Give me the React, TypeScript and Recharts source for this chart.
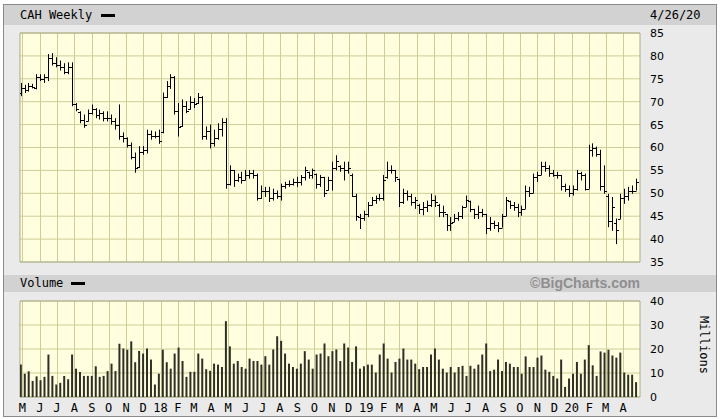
import React from 'react'
import { Bar, CartesianGrid, ComposedChart, ReferenceArea, XAxis, YAxis } from 'recharts'

// weekly bars, first one is the week of 4/28/17
const weekHigh = [
  74.1, 73.7, 74.1, 73.9, 76.0, 76.0, 76.0, 80.4, 80.6, 79.7,
  79.0, 78.4, 78.6, 78.6, 69.7, 67.9, 67.2, 68.3, 69.4, 68.6,
  68.3, 67.9, 67.9, 67.2, 66.4, 69.4, 63.3, 62.2, 61.1, 58.9,
  60.3, 60.3, 63.9, 63.7, 63.5, 63.9, 72.0, 74.5, 76.0, 75.6,
  69.7, 70.5, 70.1, 71.2, 70.8, 71.9, 71.2, 64.6, 65.0, 63.9,
  65.3, 66.4, 66.4, 56.1, 55.1, 54.3, 54.7, 55.1, 55.1, 55.1,
  54.3, 51.7, 51.4, 51.4, 51.0, 50.6, 52.1, 52.5, 52.8, 53.2,
  53.6, 54.0, 55.8, 54.7, 55.4, 54.3, 54.0, 53.6, 53.6, 56.9,
  58.3, 56.1, 56.9, 56.9, 54.3, 49.9, 45.5, 46.2, 48.1, 49.2,
  49.5, 49.9, 54.0, 56.9, 56.1, 55.1, 53.2, 51.0, 50.6, 49.9,
  49.2, 47.7, 48.1, 48.4, 49.9, 49.5, 47.7, 47.3, 45.5, 44.8,
  45.5, 45.9, 47.3, 49.5, 48.4, 46.6, 47.3, 46.6, 45.5, 44.8,
  44.0, 43.7, 45.5, 49.2, 48.4, 48.1, 47.7, 47.3, 51.7, 51.4,
  54.3, 54.7, 56.9, 56.9, 56.1, 55.1, 54.7, 54.0, 52.1, 51.7,
  51.7, 55.1, 54.7, 54.3, 60.6, 60.9, 60.2, 59.5, 56.1, 49.9,
  49.2, 44.5, 49.9, 51.0, 51.4, 51.7, 53.2,
]
const weekLow = [
  71.2, 71.9, 72.2, 72.9, 72.7, 74.5, 74.1, 74.5, 77.9, 77.5,
  76.8, 76.0, 76.0, 69.0, 67.9, 65.3, 64.3, 65.7, 67.2, 66.4,
  66.1, 65.7, 65.7, 65.0, 63.9, 61.7, 61.1, 60.0, 57.4, 54.5,
  55.5, 58.4, 58.7, 61.7, 62.0, 60.8, 63.1, 70.8, 72.8, 67.2,
  62.4, 64.5, 67.5, 68.3, 68.6, 69.5, 61.7, 61.7, 59.8, 60.2,
  61.7, 62.4, 51.0, 51.7, 51.4, 52.5, 52.1, 52.8, 53.2, 53.2,
  48.4, 48.8, 49.2, 48.1, 48.4, 48.8, 48.4, 51.0, 51.4, 51.7,
  51.4, 51.7, 52.8, 53.2, 53.2, 51.0, 51.4, 49.2, 50.6, 50.6,
  55.0, 54.7, 52.8, 54.3, 49.2, 44.0, 42.2, 44.0, 44.8, 47.3,
  47.7, 48.4, 48.4, 53.2, 54.3, 52.5, 47.0, 47.7, 48.4, 47.3,
  46.6, 45.5, 45.2, 45.9, 47.0, 47.0, 44.8, 44.8, 41.8, 41.8,
  43.7, 44.0, 44.4, 47.0, 45.9, 44.4, 44.4, 44.8, 41.1, 41.8,
  42.2, 41.5, 42.5, 45.0, 46.6, 46.2, 44.8, 45.1, 46.6, 49.2,
  50.0, 52.5, 54.0, 54.7, 53.6, 53.6, 53.2, 50.6, 50.3, 49.2,
  49.5, 50.6, 52.8, 50.6, 51.0, 58.0, 58.0, 50.6, 49.9, 42.6,
  41.8, 38.9, 44.4, 47.7, 48.4, 49.9, 50.6,
]
const weekOpen = [
  72.0, 73.0, 72.5, 73.5, 73.0, 75.5, 75.0, 75.5, 79.5, 78.5,
  78.0, 77.5, 76.5, 77.5, 69.5, 67.8, 66.0, 65.8, 67.5, 68.5,
  67.0, 67.5, 66.5, 66.5, 65.7, 65.0, 62.5, 62.0, 60.5, 58.0,
  55.8, 59.0, 59.5, 63.0, 62.5, 62.5, 63.3, 71.0, 73.5, 75.5,
  68.0, 64.8, 69.0, 68.5, 70.0, 69.8, 71.0, 62.5, 63.5, 61.0,
  62.0, 64.0, 65.5, 52.0, 55.0, 53.0, 53.5, 53.0, 54.0, 54.5,
  54.0, 49.0, 50.5, 50.5, 49.0, 50.0, 49.5, 51.5, 52.0, 52.0,
  52.5, 52.5, 53.5, 54.6, 54.0, 54.2, 52.0, 53.5, 50.8, 53.0,
  55.5, 56.0, 55.5, 55.0, 54.0, 49.5, 44.8, 44.5, 45.5, 47.5,
  48.5, 49.0, 49.0, 53.5, 55.0, 55.0, 53.2, 48.0, 50.0, 49.5,
  48.0, 47.5, 46.5, 47.0, 47.5, 48.5, 47.5, 46.0, 45.5, 43.0,
  43.8, 44.5, 45.0, 47.0, 48.4, 46.5, 45.5, 46.0, 45.5, 42.5,
  43.5, 43.0, 42.5, 45.0, 48.4, 47.5, 47.0, 46.0, 46.6, 50.5,
  50.0, 53.5, 54.0, 56.0, 55.5, 54.5, 54.0, 54.0, 51.5, 51.0,
  50.0, 51.0, 54.5, 54.0, 51.0, 59.5, 60.0, 58.5, 51.5, 49.5,
  44.0, 43.5, 44.4, 49.0, 49.5, 50.5, 50.6,
]
const weekClose = [
  73.0, 72.5, 73.5, 73.3, 75.5, 75.0, 75.5, 79.5, 78.5, 78.0,
  77.5, 76.5, 77.5, 69.5, 68.5, 66.0, 65.0, 67.5, 68.5, 67.0,
  67.5, 66.5, 66.5, 65.7, 65.0, 62.5, 62.0, 60.5, 58.0, 55.5,
  59.0, 59.5, 63.0, 62.5, 62.5, 61.5, 71.0, 73.5, 75.5, 68.0,
  64.5, 69.0, 68.0, 70.0, 69.5, 71.0, 62.5, 63.5, 61.0, 62.0,
  64.0, 65.5, 52.0, 55.0, 53.0, 53.5, 53.0, 54.0, 54.5, 54.0,
  49.0, 50.5, 50.5, 49.0, 50.0, 49.5, 51.5, 52.0, 52.0, 52.5,
  52.5, 53.5, 55.0, 54.0, 55.0, 52.0, 53.5, 50.0, 53.0, 55.5,
  57.0, 55.5, 55.0, 55.5, 49.5, 45.0, 44.5, 45.5, 47.5, 48.5,
  49.0, 49.0, 53.0, 55.0, 55.0, 53.5, 48.0, 50.0, 49.5, 48.0,
  48.5, 46.5, 47.0, 47.5, 48.5, 48.0, 46.0, 46.0, 43.0, 43.5,
  44.5, 45.0, 47.0, 48.5, 46.5, 45.5, 46.0, 45.5, 42.5, 43.5,
  43.0, 42.5, 45.0, 48.5, 47.5, 47.0, 46.0, 46.5, 50.5, 50.0,
  53.5, 54.0, 56.0, 55.5, 54.5, 54.0, 54.0, 51.5, 51.0, 50.0,
  51.0, 54.5, 54.0, 51.0, 59.5, 60.0, 58.5, 51.5, 50.5, 44.0,
  47.0, 42.0, 49.0, 49.5, 50.5, 50.5, 52.5,
]
// millions of shares
const weekVolume = [
  13.5, 9.7, 10.7, 6.7, 8.6, 7.0, 8.4, 17.7, 8.8, 5.2,
  5.9, 8.8, 7.4, 17.7, 11.8, 10.4, 8.8, 8.8, 8.8, 12.8,
  8.4, 8.8, 10.8, 13.9, 10.8, 22.2, 20.2, 19.7, 23.2, 14.5,
  19.2, 18.1, 20.2, 15.6, 5.2, 9.7, 19.7, 14.5, 11.8, 18.1,
  20.6, 15.0, 8.4, 10.5, 10.5, 18.1, 16.0, 11.6, 10.9, 13.9,
  13.5, 12.5, 31.6, 21.1, 13.9, 15.0, 12.5, 11.8, 16.0, 15.0,
  15.0, 13.5, 17.0, 13.5, 19.8, 25.3, 23.4, 18.1, 13.9, 12.5,
  11.8, 13.9, 19.1, 15.6, 11.8, 17.7, 18.1, 22.3, 17.0, 19.1,
  19.8, 15.0, 22.3, 20.6, 14.6, 21.1, 11.8, 12.8, 13.5, 13.5,
  10.2, 17.7, 22.3, 16.0, 10.2, 14.6, 16.0, 20.2, 15.6, 15.6,
  13.9, 11.6, 12.5, 12.5, 17.7, 20.2, 15.6, 11.8, 10.2, 12.5,
  10.2, 12.5, 13.0, 8.8, 13.0, 11.8, 13.5, 17.7, 22.3, 10.8,
  11.4, 15.6, 10.8, 14.6, 13.9, 12.5, 12.5, 9.7, 16.9, 12.5,
  12.5, 16.4, 17.3, 11.4, 10.5, 8.8, 7.7, 15.6, 4.2, 7.7,
  9.7, 14.6, 9.7, 15.6, 21.6, 13.2, 8.8, 19.0, 18.5, 19.7,
  17.3, 16.4, 18.5, 10.2, 9.3, 9.3, 6.2,
]

const priceTicks = [35, 40, 45, 50, 55, 60, 65, 70, 75, 80, 85]
const volumeTicks = [0, 10, 20, 30, 40]
const monthLabels = [
  'M', 'J', 'J', 'A', 'S', 'O', 'N', 'D',
  '18', 'F', 'M', 'A', 'M', 'J', 'J', 'A', 'S', 'O', 'N', 'D',
  '19', 'F', 'M', 'A', 'M', 'J', 'J', 'A', 'S', 'O', 'N', 'D',
  '20', 'F', 'M', 'A',
]

const firstWeek = Date.UTC(2017, 3, 28)
const WEEK_MS = 7 * 86400000
// month starts, in weeks from the first bar
const monthTicks = monthLabels.map((_, k) => (Date.UTC(2017, 4 + k, 1) - firstWeek) / WEEK_MS)
const labelAt = new Map(monthTicks.map((t, k) => [t, monthLabels[k]]))

const xDomain: [number, number] = [-0.2, 157]

const data = weekHigh.map((high, i) => ({
  i,
  high,
  low: weekLow[i],
  open: weekOpen[i],
  close: weekClose[i],
  range: [weekLow[i], high],
  vol: weekVolume[i],
}))

const MONO = '"DejaVu Sans Mono", "Liberation Mono", monospace'
const SANS = '"DejaVu Sans", Verdana, sans-serif'
const GRID = '#cdcd96'
const PLOT_BG = '#ffffe0'
const FRAME = '#a9a98e'

// month grid lines: use the axis scale when the grid hands it over,
// otherwise map the month positions across the plot offset
const monthLines = (props: any) => {
  const scale = props?.xAxis?.scale
  const off = props?.offset
  return monthTicks.map((t) => {
    let px: number
    if (typeof scale === 'function') px = scale(t)
    else px = off.left + ((t - xDomain[0]) / (xDomain[1] - xDomain[0])) * off.width
    return Math.round(px) + 0.5
  })
}

function OhlcBar(props: any) {
  const { x, y, width, height, payload } = props
  if (x == null || !payload) return null
  const cx = Math.round(x + width / 2) + 0.5
  const span = payload.high - payload.low || 1
  const yOf = (v: number) => Math.round(y + ((payload.high - v) / span) * height) + 0.5
  const yo = yOf(payload.open)
  const yc = yOf(payload.close)
  return (
    <g stroke="#000" strokeWidth={1} fill="none">
      <line x1={cx} x2={cx} y1={y} y2={y + height} />
      <line x1={cx - 2.5} x2={cx} y1={yo} y2={yo} />
      <line x1={cx} x2={cx + 2.5} y1={yc} y2={yc} />
    </g>
  )
}

const band: React.CSSProperties = {
  position: 'absolute',
  left: 4,
  width: 712,
  background: '#d2d2d2',
}

export default function App() {
  return (
    <div style={{ position: 'relative', width: 720, height: 419, background: '#fff', overflow: 'hidden' }}>
      <style>{'body{margin:0}'}</style>
      <div
        style={{
          position: 'absolute',
          left: 3,
          top: 4,
          width: 714,
          height: 413,
          boxSizing: 'border-box',
          border: '1px solid #8a8a8a',
          background: '#eaeaea',
        }}
      />
      <div style={{ ...band, top: 5, height: 20 }} />
      <div style={{ ...band, top: 275, height: 17 }} />

      <div style={{ position: 'absolute', left: 20, top: 8, fontFamily: MONO, fontSize: 12, lineHeight: '15px', color: '#000' }}>
        CAH Weekly
      </div>
      <div style={{ position: 'absolute', left: 101, top: 14, width: 14, height: 3, background: '#000' }} />
      <div style={{ position: 'absolute', left: 650, top: 8, fontFamily: MONO, fontSize: 12, lineHeight: '15px', color: '#000' }}>
        4/26/20
      </div>

      <div style={{ position: 'absolute', left: 20, top: 276, fontFamily: MONO, fontSize: 12, lineHeight: '15px', color: '#000' }}>
        Volume
      </div>
      <div style={{ position: 'absolute', left: 71, top: 282, width: 14, height: 3, background: '#000' }} />
      <div
        style={{
          position: 'absolute',
          right: 80,
          top: 275,
          fontFamily: '"Liberation Sans", Arial, sans-serif',
          fontWeight: 700,
          fontSize: 14,
          lineHeight: '17px',
          color: '#8e8e8e',
        }}
      >
        ©BigCharts.com
      </div>
      <div
        style={{
          position: 'absolute',
          left: 704,
          top: 345,
          transform: 'translate(-50%, -50%) rotate(90deg)',
          fontFamily: MONO,
          fontSize: 12,
          lineHeight: '14px',
          color: '#000',
          whiteSpace: 'nowrap',
        }}
      >
        Millions
      </div>

      <div style={{ position: 'absolute', left: 0, top: 0 }}>
        <ComposedChart width={720} height={270} data={data} margin={{ top: 33, right: 20, bottom: 8, left: 20 }}>
          <CartesianGrid fill={PLOT_BG} stroke={GRID} verticalCoordinatesGenerator={monthLines} />
          <XAxis type="number" dataKey="i" domain={xDomain} ticks={monthTicks} interval={0} allowDataOverflow hide />
          <YAxis
            orientation="right"
            width={60}
            domain={[35, 85]}
            ticks={priceTicks}
            interval={0}
            axisLine={false}
            tickLine={false}
            tickSize={6}
            tickMargin={4}
            tick={{ fontSize: 11, fill: '#000', fontFamily: SANS, textAnchor: 'start' }}
          />
          <ReferenceArea x1={xDomain[0]} x2={xDomain[1]} y1={35} y2={85} fill="none" stroke={FRAME} />
          <Bar dataKey="range" barSize={4} shape={OhlcBar} isAnimationActive={false} />
        </ComposedChart>
      </div>

      <div style={{ position: 'absolute', left: 0, top: 0 }}>
        <ComposedChart width={720} height={419} data={data} margin={{ top: 301, right: 20, bottom: 6, left: 20 }}>
          <CartesianGrid fill={PLOT_BG} stroke={GRID} verticalCoordinatesGenerator={monthLines} />
          <XAxis
            type="number"
            dataKey="i"
            domain={xDomain}
            ticks={monthTicks}
            interval={0}
            allowDataOverflow
            height={16}
            axisLine={false}
            tickLine={false}
            tickSize={2}
            tickMargin={4}
            tickFormatter={(v: number) => labelAt.get(v) ?? ''}
            tick={{ fontSize: 12, fill: '#000', fontFamily: MONO }}
          />
          <YAxis
            orientation="right"
            width={60}
            domain={[0, 40]}
            ticks={volumeTicks}
            interval={0}
            axisLine={false}
            tickLine={false}
            tickSize={6}
            tickMargin={4}
            tick={{ fontSize: 11, fill: '#000', fontFamily: SANS, textAnchor: 'start' }}
          />
          <ReferenceArea x1={xDomain[0]} x2={xDomain[1]} y1={0} y2={40} fill="none" stroke={FRAME} />
          <Bar dataKey="vol" barSize={2} fill="#2f2f26" isAnimationActive={false} />
        </ComposedChart>
      </div>
    </div>
  )
}
